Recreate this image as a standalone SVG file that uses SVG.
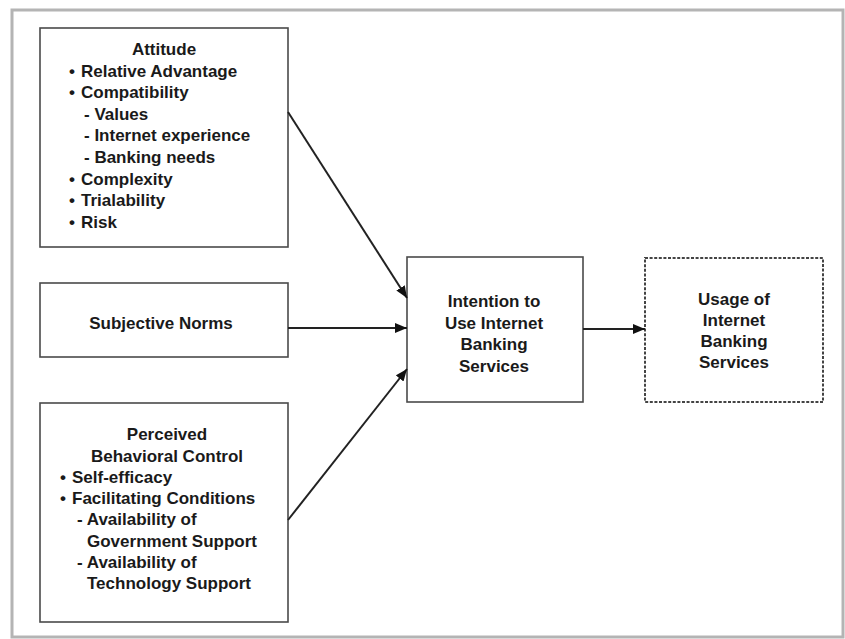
<svg xmlns="http://www.w3.org/2000/svg" width="845" height="639" viewBox="0 0 845 639">
<style>
.box{fill:#fff;stroke:#4a4a4a;stroke-width:1.6}
.dash{fill:#fff;stroke:#444;stroke-width:2;stroke-dasharray:3 1.6}
text{font-family:"Liberation Sans",Arial,sans-serif;font-weight:bold;font-size:17px;fill:#1a1a1a}
.c{text-anchor:middle}
.ln{stroke:#222;stroke-width:2;fill:none}
</style>
<defs>
<marker id="ah" markerWidth="12" markerHeight="10" refX="12" refY="5" orient="auto" markerUnits="userSpaceOnUse">
<path d="M0,0 L12,5 L0,10 Z" fill="#111"/>
</marker>
</defs>
<rect x="0" y="0" width="845" height="639" fill="#fff"/>
<rect x="12" y="10" width="831" height="627" fill="none" stroke="#b4b4b4" stroke-width="3"/>
<g id="attitude">
<rect class="box" x="40" y="28" width="248" height="219"/>
<text class="c" x="164" y="55">Attitude</text>
<text x="69" y="76.6">•</text><text x="81" y="76.6">Relative Advantage</text>
<text x="69" y="98.2">•</text><text x="81" y="98.2">Compatibility</text>
<text x="84" y="119.8">- Values</text>
<text x="84" y="141.4">- Internet experience</text>
<text x="84" y="163">- Banking needs</text>
<text x="69" y="184.6">•</text><text x="81" y="184.6">Complexity</text>
<text x="69" y="206.2">•</text><text x="81" y="206.2">Trialability</text>
<text x="69" y="227.8">•</text><text x="81" y="227.8">Risk</text>
</g>
<g id="subjective">
<rect class="box" x="40" y="283" width="248" height="74"/>
<text class="c" x="161" y="329">Subjective Norms</text>
</g>
<g id="pbc">
<rect class="box" x="40" y="403" width="248" height="219"/>
<text class="c" x="167" y="440">Perceived</text>
<text class="c" x="167" y="461.5">Behavioral Control</text>
<text x="60" y="483">•</text><text x="72" y="483">Self-efficacy</text>
<text x="60" y="504">•</text><text x="72" y="504">Facilitating Conditions</text>
<text x="77" y="525">- Availability of</text>
<text x="87" y="546.5">Government Support</text>
<text x="77" y="568">- Availability of</text>
<text x="87" y="589">Technology Support</text>
</g>
<g id="intention">
<rect class="box" x="407" y="257" width="176" height="145"/>
<text class="c" x="494" y="307">Intention to</text>
<text class="c" x="494" y="328.5">Use Internet</text>
<text class="c" x="494" y="350">Banking</text>
<text class="c" x="494" y="371.5">Services</text>
</g>
<g id="usage">
<rect class="dash" x="645" y="258" width="178" height="144"/>
<text class="c" x="734" y="305">Usage of</text>
<text class="c" x="734" y="326">Internet</text>
<text class="c" x="734" y="347">Banking</text>
<text class="c" x="734" y="368">Services</text>
</g>
<g id="connectors">
<line class="ln" x1="288" y1="112" x2="407" y2="298" marker-end="url(#ah)"/>
<line class="ln" x1="288" y1="328" x2="407" y2="328" marker-end="url(#ah)"/>
<line class="ln" x1="288" y1="520" x2="407" y2="369" marker-end="url(#ah)"/>
<line class="ln" x1="583" y1="329" x2="645" y2="329" marker-end="url(#ah)"/>
</g>
</svg>
